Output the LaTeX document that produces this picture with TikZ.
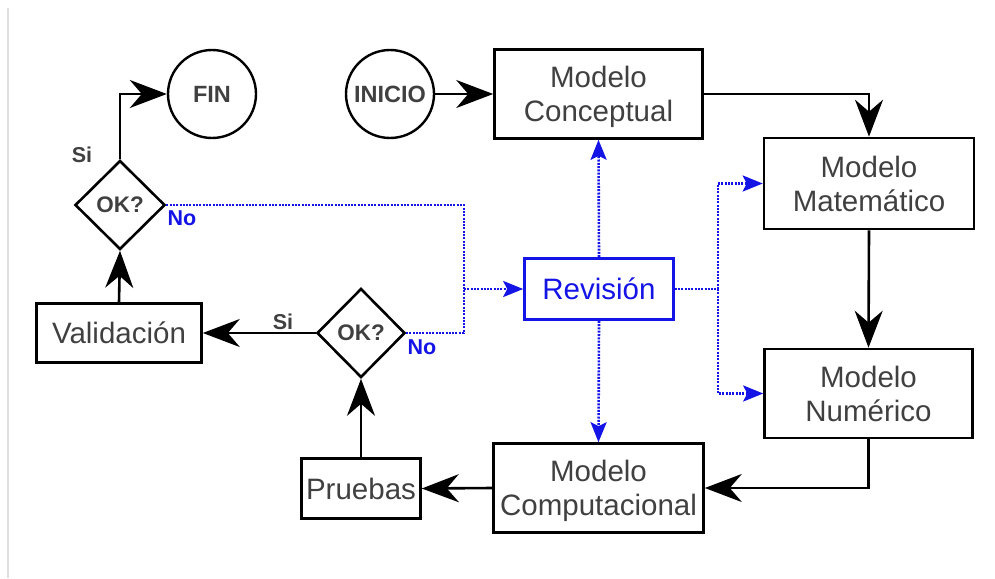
\documentclass[tikz,border=0pt]{standalone}
\usepackage{fontspec}
\setmainfont{Liberation Sans}
\usetikzlibrary{arrows.meta,shapes.geometric}
\definecolor{txt}{HTML}{404040}
\definecolor{revblue}{RGB}{20,20,230}
\begin{document}
\begin{tikzpicture}[x=1pt,y=-1pt,
  box/.style={draw=black, line width=2.6pt, text=txt, align=center, inner sep=0pt,
    text depth=0pt, font=\fontsize{29.5}{34}\selectfont},
  revbox/.style={box, draw=revblue, text=revblue},
  term/.style={circle, draw=black, line width=2.4pt, minimum size=88pt, inner sep=0pt,
    text=txt, font=\fontsize{23.5}{27}\selectfont\bfseries},
  decide/.style={diamond, draw=black, line width=2.6pt, inner sep=0pt, aspect=1,
    text=txt, font=\fontsize{22.5}{26}\selectfont\bfseries},
  lbl/.style={text=txt, font=\fontsize{21.5}{25}\selectfont\bfseries, inner sep=0pt},
  nolbl/.style={text=revblue, font=\fontsize{21.5}{25}\selectfont\bfseries, inner sep=0pt},
  flow/.style={draw=black, line width=2.6pt,
    -{Stealth[length=37pt, width=28pt, inset=12pt]}},
  rev/.style={draw=revblue, line width=2.6pt, dash pattern=on 2pt off 1.3pt},
  revarr/.style={rev, -{Stealth[length=20pt, width=16pt, inset=4pt]}}
]
\useasboundingbox (0,0) rectangle (995,578);
% thin frame line on the left
\draw[gray!25, line width=2pt] (8,8) -- (8,578);

% nodes
\node[term] (ini) at (390,94) {INICIO};
\node[term] (fin) at (212,94) {FIN};
\node[box, minimum width=208pt, minimum height=89pt] (conc) at (598.5,94) {Modelo\\Conceptual};
\node[box, minimum width=210pt, minimum height=91pt] (mat) at (869,183.5) {Modelo\\Matemático};
\node[box, minimum width=208pt, minimum height=89pt] (num) at (868.5,393.5) {Modelo\\Numérico};
\node[box, minimum width=210pt, minimum height=89pt] (comp) at (598.5,488) {Modelo\\Computacional};
\node[box, minimum width=119pt, minimum height=60pt] (pru) at (361,488.5) {Pruebas};
\node[box, minimum width=165pt, minimum height=59pt] (val) at (119,333) {Validación};
\node[revbox, minimum width=149pt, minimum height=61pt] (rev) at (599,289) {Revisión};
\node[decide, minimum width=90pt, minimum height=89pt] (ok1) at (120,205) {OK?};
\node[decide, minimum width=88pt, minimum height=89pt] (ok2) at (361,333) {OK?};

% labels
\node[lbl] (si1) at (82,155) {Si};
\node[nolbl] (no1) at (182,218) {No};
\node[lbl] (si2) at (283,322) {Si};
\node[nolbl] (no2) at (422,347) {No};

% main flow
\draw[flow] (ini.east) -- (conc.west);
\draw[flow] (conc.east) -| (mat.north);
\draw[flow] (mat.south) -- (num.north);
\draw[flow] (num.south) |- (comp.east);
\draw[flow] (comp.west) -- (pru.east);
\draw[flow] (pru.north) -- (ok2.south);
\draw[flow] (ok2.west) -- (val.east);
\draw[flow] (val.north) -- (ok1.south);
\draw[flow] (ok1.north) |- (fin.west);

% revision loops
\coordinate (splitL) at (464,289);
\coordinate (splitR) at (718,289);
\draw[rev] (ok1.east) -| (splitL) |- (ok2.east);
\draw[revarr] (splitL) -- (rev.west);
\draw[revarr] (rev.north) -- (conc.south);
\draw[revarr] (rev.south) -- (comp.north);
\draw[rev] (rev.east) -- (splitR);
\draw[revarr] (splitR) |- (mat.west);
\draw[revarr] (splitR) |- (num.west);
\end{tikzpicture}
\end{document}
